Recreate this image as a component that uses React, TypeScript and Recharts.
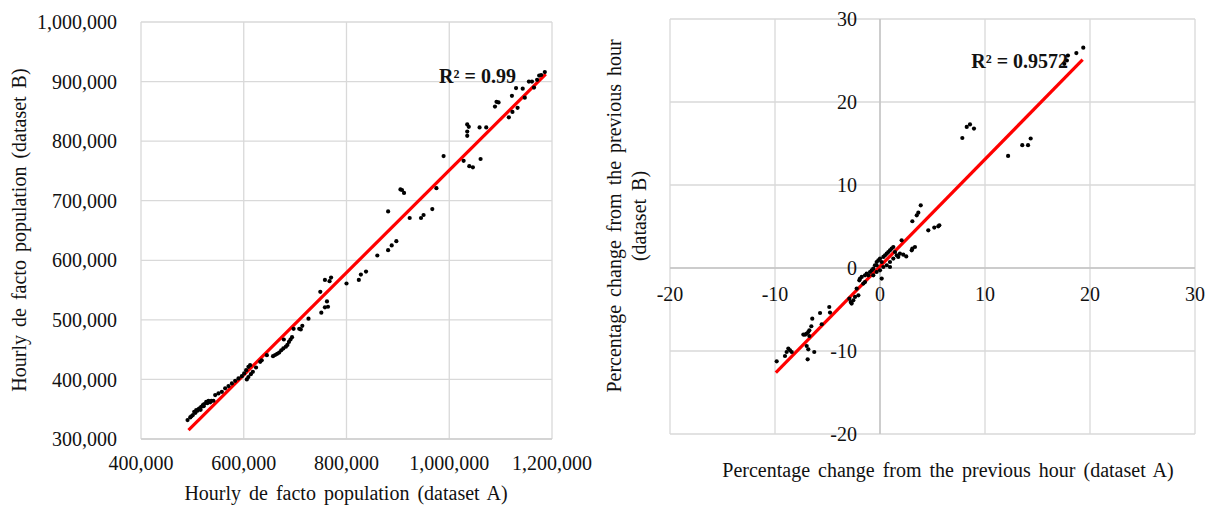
import React from 'react';
import { ScatterChart, Scatter, XAxis, YAxis, CartesianGrid, ReferenceLine, ReferenceDot } from 'recharts';

// ---------- Left chart data (hourly de facto population) ----------
const leftA = [
  490600, 495800, 498000, 501000, 503600, 506000, 507500, 510000, 512000, 514000, 516000, 517200, 520500, 522000,
  523000, 527000, 529000, 531400, 534700, 537000, 541000, 544400, 550800, 557400, 563800, 570300, 576900, 583300,
  589700, 596300, 600800, 604700, 609100, 612400, 606000, 609000, 613800, 617700, 624000, 632000, 635000, 645000,
  657000, 661000, 665000, 669000, 673000, 677000, 678000, 682000, 685000, 688000, 691000, 694000, 697000, 708000,
  711000, 714000, 726000, 751000, 749000, 758000, 762000, 764000, 758000, 767000, 770000, 800000, 824000, 828000,
  838000, 860000, 881000, 888000, 897000, 881000, 905000, 908000, 912000, 923000, 945000, 950000, 967000, 975000,
  989000, 1028000, 1039000, 1046000, 1061000, 1035000, 1038000, 1035000, 1035000, 1059000, 1072000, 1089000, 1092000,
  1096000, 1116000, 1123000, 1133000, 1122000, 1130000, 1143000, 1147000, 1155000, 1161000, 1165000, 1171000,
  1175000, 1179000, 1186000,
];
const leftB = [
  331800, 336300, 338000, 340200, 345700, 344000, 348600, 347400, 350000, 351400, 349000, 354100, 357000, 355000,
  358600, 362500, 360000, 364200, 361500, 364000, 364200, 373700, 376500, 379200, 385000, 388800, 393300, 397700,
  401700, 405500, 410000, 415600, 421100, 424000, 400000, 404000, 408900, 412700, 420000, 429500, 432000, 440700,
  439000, 441000, 443000, 445000, 449000, 452000, 467000, 455000, 458000, 463000, 467000, 471000, 485000, 485000,
  484000, 490000, 502000, 512000, 547000, 521000, 531000, 522000, 567000, 565000, 571000, 561000, 567000, 576000,
  581000, 608000, 617000, 625000, 632000, 682000, 719000, 718000, 713000, 671000, 671000, 676000, 686000, 721000,
  775000, 767000, 758000, 756000, 770000, 828000, 824000, 816000, 809000, 823000, 823000, 858000, 866000,
  865000, 840000, 849000, 856000, 876000, 889000, 888000, 873000, 900000, 900000, 890000, 903000,
  910000, 911000, 916000,
];
const leftXTicks = [400000, 600000, 800000, 1000000, 1200000];
const leftYTicks = [300000, 400000, 500000, 600000, 700000, 800000, 900000, 1000000];
const leftTrend = [
  { x: 492500, y: 315000 },
  { x: 1187800, y: 912600 },
];
const leftR2 = { x: 1055000, y: 910000, text: 'R² = 0.99' };

// ---------- Right chart data (percentage change) ----------
const rightA = [
  -9.84, -9.05, -8.89, -8.73, -8.57, -8.41, -7.3, -7.14, -6.98, -6.83, -6.73, -6.73, -6.98, -6.83, -6.89, -6.26,
  -6.54, -6.45, -5.71, -5.55, -4.83, -4.76, -2.92, -2.79, -2.7, -2.54, -2.38, -2.06, -2.22, -1.97, -1.9, -1.74,
  -1.59, -1.43, -1.43, -1.27, -1.11, -0.95, -0.79, -0.64, -0.64, -0.48, -0.32, -0.32, -0.32, -0.16, 0, 0, 0.16,
  0.16, 0.32, 0.32, 0.48, 0.64, 0.64, 0.79, 0.95, 0.95, 0.95, 1.11, 1.27, 1.27, 1.43, 1.59, 1.74, 1.9, 2.06, 2.22,
  2.5, 3.02, 3.33, 3.08, 3.08, 3.5, 3.65, 3.88, 4.6, 5.17, 5.55, 5.65, 7.84, 8.26, 8.57, 8.95, 12.2, 13.55, 14.1,
  14.35, 17.55, 17.8, 17.9, 18.7, 19.36,
];
const rightB = [
  -11.24, -10.6, -10.12, -9.71, -9.92, -10.12, -8.02, -8.03, -7.9, -7.71, -8.19, -7.5, -9.4, -9.8, -11.0, -10.12,
  -7.02, -6.1, -5.42, -6.78, -4.7, -5.37, -3.69, -4.1, -4.29, -3.89, -3.49, -3.29, -2.48, -1.48, -1.28, -1.08,
  -1.88, -1.69, -0.88, -0.68, -0.88, -0.48, -0.28, -0.07, -0.88, 0.33, 0.72, -0.48, 0.33, 0.93, 1.13, -0.28, 0.72,
  -1.28, 1.33, 0.12, 1.53, 1.73, 0.33, 1.93, 2.13, 0.72, 0.12, 2.34, 2.53, 1.13, 1.93, 1.53, 1.33, 1.73, 3.34, 1.61,
  1.4, 2.13, 2.53, 2.33, 5.63, 6.35, 6.67, 7.55, 4.54, 4.87, 5.02, 5.14, 15.66, 17.0, 17.3, 16.8, 13.5, 14.8, 14.8,
  15.6, 24.6, 25.0, 25.6, 25.9, 26.55,
];
const rightXTicks = [-20, -10, 0, 10, 20, 30];
const rightYTicks = [-20, -10, 0, 10, 20, 30];
const rightTrend = [
  { x: -9.92, y: -12.6 },
  { x: 19.3, y: 25.1 },
];
const rightR2 = { x: 13.3, y: 24.9, text: 'R² = 0.9572' };

// ---------- Labels ----------
const leftXTitle = 'Hourly de facto population (dataset A)';
const leftYTitle = 'Hourly de facto population (dataset B)';
const rightXTitle = 'Percentage change from the previous hour (dataset A)';
const rightYTitle1 = 'Percentage change from the previous hour';
const rightYTitle2 = '(dataset B)';

const leftData = leftA.map((x, i) => ({ x, y: leftB[i] }));
const rightData = rightA.map((x, i) => ({ x, y: rightB[i] }));

const FONT = '"Liberation Serif", "Times New Roman", serif';
const TEXT = '#111111';
const GRID = '#d9d9d9';
const fmt = (v: number) => v.toLocaleString('en-US');

const Dot = (p: any) => <circle cx={p.cx} cy={p.cy} r={2.1} fill="#000" />;

const R2Label = (p: any) => {
  const vb = p.viewBox || {};
  return (
    <text x={vb.x} y={vb.y} textAnchor="middle" dy="0.35em" fontFamily={FONT} fontSize={20} fontWeight="bold" fill={TEXT}>
      {p.text}
    </text>
  );
};

const XTickLabel = (p: any) => {
  const vb = p.viewBox || {};
  return (
    <text x={vb.x} y={vb.y + 26} textAnchor="middle" dy="0.35em" fontFamily={FONT} fontSize={20} fill={TEXT}>
      {p.text}
    </text>
  );
};

const YTickLabel = (p: any) => {
  const vb = p.viewBox || {};
  return (
    <text x={vb.x - 23} y={vb.y} textAnchor="end" dy="0.35em" fontFamily={FONT} fontSize={20} fill={TEXT}>
      {p.text}
    </text>
  );
};

const titleStyle: React.CSSProperties = {
  position: 'absolute',
  fontFamily: FONT,
  fontSize: 20,
  color: TEXT,
  whiteSpace: 'nowrap',
  wordSpacing: 3,
  lineHeight: '25px',
  textAlign: 'center',
};

export default function App() {
  return (
    <div style={{ position: 'absolute', left: 0, top: 0, width: 1211, height: 507, background: '#fff', overflow: 'hidden' }}>
      <div style={{ position: 'absolute', left: 0, top: 0 }}>
        <ScatterChart width={600} height={507} margin={{ top: 22, right: 48, bottom: 0, left: 0 }}>
          <CartesianGrid stroke={GRID} strokeWidth={1.3} />
          <XAxis
            type="number"
            dataKey="x"
            domain={[400000, 1200000]}
            ticks={leftXTicks}
            tickFormatter={fmt}
            height={68}
            axisLine={{ stroke: '#cfcfcf', strokeWidth: 1.3 }}
            tickLine={false}
            tickSize={0}
            tickMargin={17}
            tick={{ fill: TEXT, fontSize: 20, fontFamily: FONT }}
            interval={0}
          />
          <YAxis
            type="number"
            dataKey="y"
            domain={[300000, 1000000]}
            ticks={leftYTicks}
            tickFormatter={fmt}
            width={141}
            axisLine={false}
            tickLine={false}
            tickSize={0}
            tickMargin={24}
            tick={{ fill: TEXT, fontSize: 20, fontFamily: FONT }}
            interval={0}
          />
          <Scatter data={leftData} fill="#000" shape={Dot} isAnimationActive={false} />
          <ReferenceLine segment={leftTrend} stroke="#ff0000" strokeWidth={3.2} />
          <ReferenceDot x={leftR2.x} y={leftR2.y} r={0} fill="none" stroke="none" label={<R2Label text={leftR2.text} />} />
        </ScatterChart>
      </div>
      <div style={{ ...titleStyle, left: 346, top: 493, transform: 'translate(-50%, -50%)' }}>{leftXTitle}</div>
      <div style={{ ...titleStyle, left: 19, top: 230, transform: 'translate(-50%, -50%) rotate(-90deg)' }}>{leftYTitle}</div>

      <div style={{ position: 'absolute', left: 600, top: 0 }}>
        <ScatterChart width={611} height={507} margin={{ top: 19, right: 16, bottom: 73, left: 70 }}>
          <CartesianGrid stroke={GRID} strokeWidth={1.3} />
          <XAxis type="number" dataKey="x" domain={[-20, 30]} ticks={rightXTicks} hide />
          <YAxis type="number" dataKey="y" domain={[-20, 30]} ticks={rightYTicks} hide />
          <ReferenceLine x={0} stroke="#c4c4c4" strokeWidth={1.5} />
          <ReferenceLine y={0} stroke="#c4c4c4" strokeWidth={1.5} />
          <Scatter data={rightData} fill="#000" shape={Dot} isAnimationActive={false} />
          <ReferenceLine segment={rightTrend} stroke="#ff0000" strokeWidth={3.2} />
          {rightXTicks.map((v) => (
            <ReferenceDot key={'xt' + v} x={v} y={0} r={0} fill="none" stroke="none" label={<XTickLabel text={String(v)} />} />
          ))}
          {rightYTicks.map((v) => (
            <ReferenceDot key={'yt' + v} x={0} y={v} r={0} fill="none" stroke="none" label={<YTickLabel text={String(v)} />} />
          ))}
          <ReferenceDot x={rightR2.x} y={rightR2.y} r={0} fill="none" stroke="none" label={<R2Label text={rightR2.text} />} />
        </ScatterChart>
      </div>
      <div style={{ ...titleStyle, left: 948, top: 470, transform: 'translate(-50%, -50%)' }}>{rightXTitle}</div>
      <div style={{ ...titleStyle, left: 626.5, top: 216, transform: 'translate(-50%, -50%) rotate(-90deg)' }}>
        {rightYTitle1}
        <br />
        {rightYTitle2}
      </div>
    </div>
  );
}
